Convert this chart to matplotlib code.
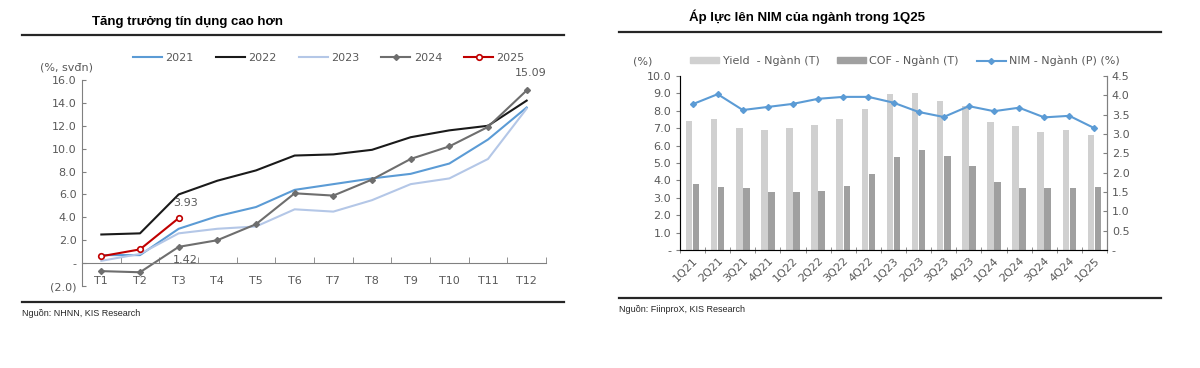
import numpy as np
import matplotlib.pyplot as plt
from matplotlib.lines import Line2D
from matplotlib.patches import Patch

plt.rcParams['font.family'] = ['DejaVu Sans']

# Du lieu bieu do trai: tang truong tin dung luy ke theo thang
thang = ['T1', 'T2', 'T3', 'T4', 'T5', 'T6', 'T7', 'T8', 'T9', 'T10', 'T11', 'T12']
td_2021 = [0.7, 0.7, 3.0, 4.1, 4.9, 6.4, 6.9, 7.4, 7.8, 8.7, 10.8, 13.6]
td_2022 = [2.5, 2.6, 6.0, 7.2, 8.1, 9.4, 9.5, 9.9, 11.0, 11.6, 12.0, 14.2]
td_2023 = [0.2, 0.8, 2.6, 3.0, 3.2, 4.7, 4.5, 5.5, 6.9, 7.4, 9.1, 13.5]
td_2024 = [-0.7, -0.8, 1.42, 2.0, 3.4, 6.1, 5.9, 7.3, 9.1, 10.2, 11.9, 15.09]
td_2025 = [0.6, 1.2, 3.93]

# Du lieu bieu do phai: Yield, COF, NIM nganh theo quy
quy = ['1Q21', '2Q21', '3Q21', '4Q21', '1Q22', '2Q22', '3Q22', '4Q22', '1Q23',
       '2Q23', '3Q23', '4Q23', '1Q24', '2Q24', '3Q24', '4Q24', '1Q25']
yield_nganh = [7.4, 7.5, 7.0, 6.9, 7.0, 7.2, 7.5, 8.1, 8.95,
               9.05, 8.55, 8.3, 7.35, 7.1, 6.8, 6.9, 6.6]
cof_nganh = [3.8, 3.6, 3.55, 3.35, 3.35, 3.4, 3.7, 4.35, 5.35,
             5.75, 5.4, 4.8, 3.93, 3.56, 3.57, 3.57, 3.64]
nim_nganh = [3.77, 4.03, 3.62, 3.70, 3.78, 3.91, 3.96, 3.96, 3.81,
             3.57, 3.44, 3.72, 3.59, 3.68, 3.43, 3.47, 3.15]

W, H = 1200, 368
GRAY_TXT = '#595959'
FS = 8


def fx(px):
    return px / W


def fy(py):
    return 1 - py / H


fig = plt.figure(figsize=(12, 3.68), dpi=100)


def khung(x0, x1, y_title, y_line_top, y_line_bot, y_src, title, src, title_x):
    """Ve tieu de, duong ke va nguon cho moi bieu do."""
    fig.text(fx(title_x), fy(y_title), title, ha='center', va='center',
             fontsize=9.5, fontweight='bold', family='Liberation Sans')
    for yy in (y_line_top, y_line_bot):
        fig.add_artist(Line2D([fx(x0), fx(x1)], [fy(yy), fy(yy)],
                              color='#262626', lw=1.6))
    fig.text(fx(x0), fy(y_src), src, ha='left', va='center', fontsize=6.5,
             family='Liberation Sans', color='#262626')


# ---------------- Bieu do trai ----------------
khung(22, 564, 22, 35, 302, 314, 'Tăng trưởng tín dụng cao hơn',
      'Nguồn: NHNN, KIS Research', 188)

ax1 = fig.add_axes([fx(82), fy(286), fx(546 - 82), (286 - 80) / H])
x = np.arange(len(thang))
ax1.plot(x, td_2021, color='#5b9bd5', lw=1.5, label='2021')
ax1.plot(x, td_2022, color='#1a1a1a', lw=1.5, label='2022')
ax1.plot(x, td_2023, color='#b4c7e7', lw=1.5, label='2023')
ax1.plot(x, td_2024, color='#6e6e6e', lw=1.5, marker='D', ms=3,
         label='2024')
ax1.plot(x[:len(td_2025)], td_2025, color='#c00000', lw=1.5, marker='o',
         ms=4, mfc='white', mew=1.2, label='2025')

ax1.annotate(f'{td_2025[2]:.2f}', (2, td_2025[2]), xytext=(5, 7),
             textcoords='offset points', ha='center', va='bottom',
             fontsize=FS, color=GRAY_TXT)
ax1.annotate(f'{td_2024[2]:.2f}', (2, td_2024[2]), xytext=(5, -6),
             textcoords='offset points', ha='center', va='top',
             fontsize=FS, color=GRAY_TXT)
ax1.annotate(f'{td_2024[11]:.2f}', (11, td_2024[11]), xytext=(3, 9),
             textcoords='offset points', ha='center', va='bottom',
             fontsize=FS, color=GRAY_TXT)

ax1.set_xlim(-0.5, len(thang) - 0.5)
ax1.set_ylim(-2, 16)
ax1.set_yticks(np.arange(-2, 17, 2))
ax1.set_yticklabels(['(2.0)', '-'] + [f'{v:.1f}' for v in range(2, 17, 2)])
ax1.set_xticks(x)
ax1.set_xticklabels(thang)
ax1.set_xticks(np.arange(-0.5, len(thang)), minor=True)
ax1.tick_params(axis='x', which='major', length=0, pad=9, labelsize=FS,
                labelcolor=GRAY_TXT)
ax1.tick_params(axis='x', which='minor', length=4, direction='in',
                color='#808080')
ax1.tick_params(axis='y', length=3, direction='in', color='#808080',
                labelsize=FS, labelcolor=GRAY_TXT, pad=4)
for s in ('top', 'right'):
    ax1.spines[s].set_visible(False)
ax1.spines['bottom'].set_position(('data', 0))
ax1.spines['bottom'].set_color('#808080')
ax1.spines['left'].set_color('#808080')

fig.text(fx(66), fy(68), '(%, svđn)', ha='center', va='center',
         fontsize=FS, color=GRAY_TXT)
fig.legend(*ax1.get_legend_handles_labels(), loc='center',
           bbox_to_anchor=(fx(329), fy(58)), ncol=5, frameon=False,
           fontsize=FS, handlelength=2.6, handletextpad=0.3,
           columnspacing=2.0, labelcolor=GRAY_TXT)

# ---------------- Bieu do phai ----------------
khung(619, 1161, 17, 32, 298, 309, 'Áp lực lên NIM của ngành trong 1Q25',
      'Nguồn: FiinproX, KIS Research', 807)

ax2 = fig.add_axes([fx(680), fy(250), fx(1107 - 680), (250 - 76) / H])
xq = np.arange(len(quy))
ax2.bar(xq - 0.14, yield_nganh, width=0.26, color='#d0d0d0',
        label='Yield  - Ngành (T)')
ax2.bar(xq + 0.14, cof_nganh, width=0.26, color='#a0a0a0',
        label='COF - Ngành (T)')
ax2.set_xlim(-0.5, len(quy) - 0.5)
ax2.set_ylim(0, 10)
ax2.set_yticks(np.arange(0, 11, 1))
ax2.set_yticklabels(['-'] + [f'{v:.1f}' for v in range(1, 11)])
ax2.set_xticks(xq)
ax2.set_xticklabels(quy, rotation=45, ha='right', rotation_mode='anchor')
ax2.set_xticks(np.arange(-0.5, len(quy)), minor=True)
ax2.tick_params(axis='x', which='major', length=0, pad=4, labelsize=FS,
                labelcolor=GRAY_TXT)
ax2.tick_params(axis='x', which='minor', length=4, direction='inout',
                color='#808080')
ax2.tick_params(axis='y', length=3, direction='out', color='#808080',
                labelsize=FS, labelcolor=GRAY_TXT)
ax2.spines['top'].set_visible(False)
for s in ('left', 'bottom', 'right'):
    ax2.spines[s].set_color('#808080')

ax3 = ax2.twinx()
l1, = ax3.plot(xq, nim_nganh, color='#5b9bd5', lw=1.5, marker='D', ms=3,
               label='NIM - Ngành (P) (%)')
ax3.set_ylim(0, 4.5)
ax3.set_yticks(np.arange(0, 4.6, 0.5))
ax3.set_yticklabels(['-'] + [f'{v:.1f}' for v in np.arange(0.5, 4.6, 0.5)])
ax3.tick_params(axis='y', length=3, direction='in', color='#808080',
                labelsize=FS, labelcolor=GRAY_TXT)
ax3.spines['top'].set_visible(False)
ax3.spines['right'].set_color('#808080')

fig.text(fx(643), fy(61), '(%)', ha='center', va='center', fontsize=FS,
         color=GRAY_TXT)
fig.legend([Patch(color='#d0d0d0'), Patch(color='#a0a0a0'), l1],
           ['Yield  - Ngành (T)', 'COF - Ngành (T)', 'NIM - Ngành (P) (%)'],
           loc='center', bbox_to_anchor=(fx(905), fy(61)), ncol=3,
           frameon=False, fontsize=FS, handlelength=2.6, handleheight=0.5,
           handletextpad=0.3, columnspacing=1.6, labelcolor=GRAY_TXT)

plt.savefig('out.png', dpi=100)
plt.close()
